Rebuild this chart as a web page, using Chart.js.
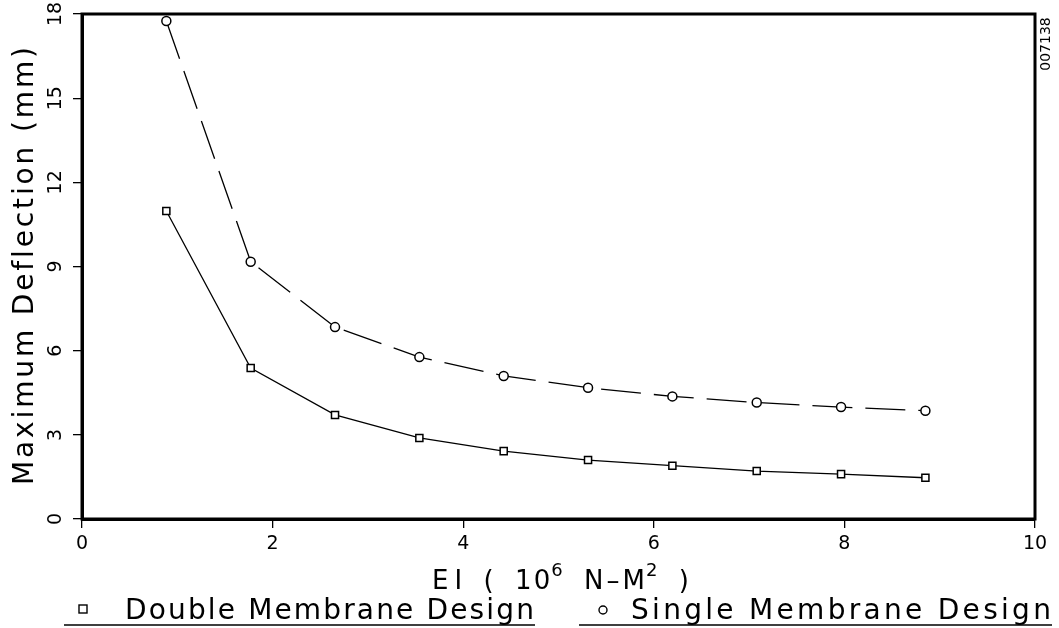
<!DOCTYPE html>
<html>
<head>
<meta charset="utf-8">
<script src="https://cdn.jsdelivr.net/npm/chart.js@4.4.1/dist/chart.umd.min.js"></script>
<style>
  html, body { margin: 0; padding: 0; background: #fff; }
  #wrap { width: 1059px; height: 628px; position: relative; }
</style>
</head>
<body>
<div id="wrap"><canvas id="grafico" width="1059" height="628"></canvas></div>
<script>
// =====================
// Datos
// =====================
const rigidez = [0.885, 1.77, 2.655, 3.54, 4.425, 5.31, 6.195, 7.08, 7.965, 8.85];
const dobleMembrana = [10.98, 5.38, 3.71, 2.89, 2.42, 2.10, 1.90, 1.71, 1.60, 1.47];
const simpleMembrana = [17.75, 9.17, 6.84, 5.77, 5.10, 4.68, 4.37, 4.15, 3.99, 3.86];
const ticksX = [0, 2, 4, 6, 8, 10];
const ticksY = [0, 3, 6, 9, 12, 15, 18];
const etiquetaDoble = "Double Membrane Design";
const etiquetaSimple = "Single Membrane Design";
const tituloY = "Maximum Deflection (mm)";
const codigo = "007138";

const FUENTE = "'DejaVu Sans', sans-serif";

// texto con espaciado ajustado a un ancho
function textoEspaciado(ctx, texto, x, y, ancho) {
  ctx.letterSpacing = "0px";
  const w = ctx.measureText(texto).width;
  const extra = (ancho - w) / Math.max(1, texto.length - 1);
  ctx.letterSpacing = extra.toFixed(2) + "px";
  ctx.fillText(texto, x, y);
  ctx.letterSpacing = "0px";
}

// =====================
// Plugin de dibujo extra
// =====================
const extras = {
  id: "extras",
  afterDraw(chart) {
    const ctx = chart.ctx;
    const a = chart.chartArea;
    const sy = chart.scales.y;
    ctx.save();
    ctx.fillStyle = "#000";
    ctx.strokeStyle = "#000";

    // marco completo
    ctx.lineWidth = 3;
    ctx.strokeRect(a.left, a.top, a.right - a.left, a.bottom - a.top);

    // etiquetas Y giradas
    ctx.font = "19px " + FUENTE;
    ctx.textAlign = "center";
    ctx.textBaseline = "middle";
    sy.ticks.forEach(t => {
      const py = sy.getPixelForValue(t.value);
      ctx.save();
      ctx.translate(56, py);
      ctx.rotate(-Math.PI / 2);
      ctx.fillText(String(t.value), 0, 0);
      ctx.restore();
    });

    // titulo Y
    ctx.save();
    ctx.translate(26, 266);
    ctx.rotate(-Math.PI / 2);
    ctx.font = "28px " + FUENTE;
    ctx.textAlign = "left";
    ctx.textBaseline = "middle";
    textoEspaciado(ctx, tituloY, -219, 0, 438);
    ctx.restore();

    // codigo arriba a la derecha
    ctx.save();
    ctx.translate(1046, 44);
    ctx.rotate(-Math.PI / 2);
    ctx.font = "14px " + FUENTE;
    ctx.textAlign = "center";
    ctx.textBaseline = "middle";
    ctx.fillText(codigo, 0, 0);
    ctx.restore();

    // titulo X: EI ( 10^6 N-M^2 )
    ctx.textAlign = "left";
    ctx.textBaseline = "alphabetic";
    const base = 589;
    const partes = [
      { t: "EI", f: 26, ls: 6 }, { t: "(", f: 26, g: 1 }, { t: "10", f: 26, ls: 2, g: 1 },
      { t: "6", f: 18, dy: -13, g: 0 }, { t: "N\u2013M", f: 26, ls: 3, g: 1 },
      { t: "2", f: 18, dy: -13, g: 0 }, { t: ")", f: 26, g: 1 }
    ];
    let total = 0, huecos = 0;
    partes.forEach(p => {
      ctx.font = p.f + "px " + FUENTE;
      ctx.letterSpacing = "0px";
      const sinEsp = ctx.measureText(p.t).width;
      // ancho con espaciado entre letras, sin el espacio final
      p.w = sinEsp + (p.ls || 0) * (p.t.length - 1);
      total += p.w;
      huecos += p.g || 0;
    });
    const hueco = (687 - 432 - total) / huecos;
    let x = 432;
    partes.forEach(p => {
      x += (p.g || 0) * hueco + (p.dy ? 1 : 0);
      ctx.font = p.f + "px " + FUENTE;
      ctx.letterSpacing = (p.ls || 0) + "px";
      ctx.fillText(p.t, x, base + (p.dy || 0));
      x += p.w;
    });
    ctx.letterSpacing = "0px";

    // leyenda
    ctx.lineWidth = 1.4;
    ctx.strokeRect(79, 605, 8, 8);
    ctx.beginPath();
    ctx.arc(603, 610, 4, 0, Math.PI * 2);
    ctx.stroke();
    ctx.font = "28px " + FUENTE;
    textoEspaciado(ctx, etiquetaDoble, 125, 619, 409);
    textoEspaciado(ctx, etiquetaSimple, 631, 619, 420);
    ctx.lineWidth = 1.5;
    ctx.beginPath();
    ctx.moveTo(64, 625); ctx.lineTo(535, 625);
    ctx.moveTo(579, 625); ctx.lineTo(1052, 625);
    ctx.stroke();
    ctx.restore();
  }
};

// =====================
// Grafico
// =====================
const ctxG = document.getElementById("grafico");
new Chart(ctxG, {
  type: "scatter",
  data: {
    datasets: [
      {
        label: etiquetaDoble,
        data: rigidez.map((v, i) => ({ x: v, y: dobleMembrana[i] })),
        showLine: true,
        borderColor: "#000",
        borderWidth: 1.3,
        pointStyle: "rect",
        pointRadius: 5,
        pointBorderWidth: 1.5,
        pointBackgroundColor: "#fff",
        pointBorderColor: "#000"
      },
      {
        label: etiquetaSimple,
        data: rigidez.map((v, i) => ({ x: v, y: simpleMembrana[i] })),
        showLine: true,
        borderColor: "#000",
        borderWidth: 1.3,
        borderDash: [40, 13],
        pointStyle: "circle",
        pointRadius: 4.5,
        pointBorderWidth: 1.5,
        pointBackgroundColor: "#fff",
        pointBorderColor: "#000"
      }
    ]
  },
  options: {
    responsive: false,
    animation: false,
    layout: { padding: { left: 0, top: 14, right: 24, bottom: 0 } },
    plugins: {
      legend: { display: false },
      tooltip: { enabled: false }
    },
    scales: {
      x: {
        type: "linear",
        min: 0,
        max: 10,
        afterBuildTicks: s => { s.ticks = ticksX.map(v => ({ value: v })); },
        afterFit: s => { s.height = 109; },
        border: { display: true, color: "#000", width: 3 },
        grid: { drawOnChartArea: false, drawTicks: true, tickLength: 9, color: "#000", lineWidth: 1.3 },
        ticks: { color: "#000", font: { family: FUENTE, size: 19 }, padding: 5, maxRotation: 0 }
      },
      y: {
        type: "linear",
        min: 0,
        max: 18,
        afterBuildTicks: s => { s.ticks = ticksY.map(v => ({ value: v })); },
        afterFit: s => { s.width = 82; },
        border: { display: true, color: "#000", width: 3 },
        grid: { drawOnChartArea: false, drawTicks: true, tickLength: 9, color: "#000", lineWidth: 1.3 },
        ticks: { display: false }
      }
    }
  },
  plugins: [extras]
});
</script>
</body>
</html>
